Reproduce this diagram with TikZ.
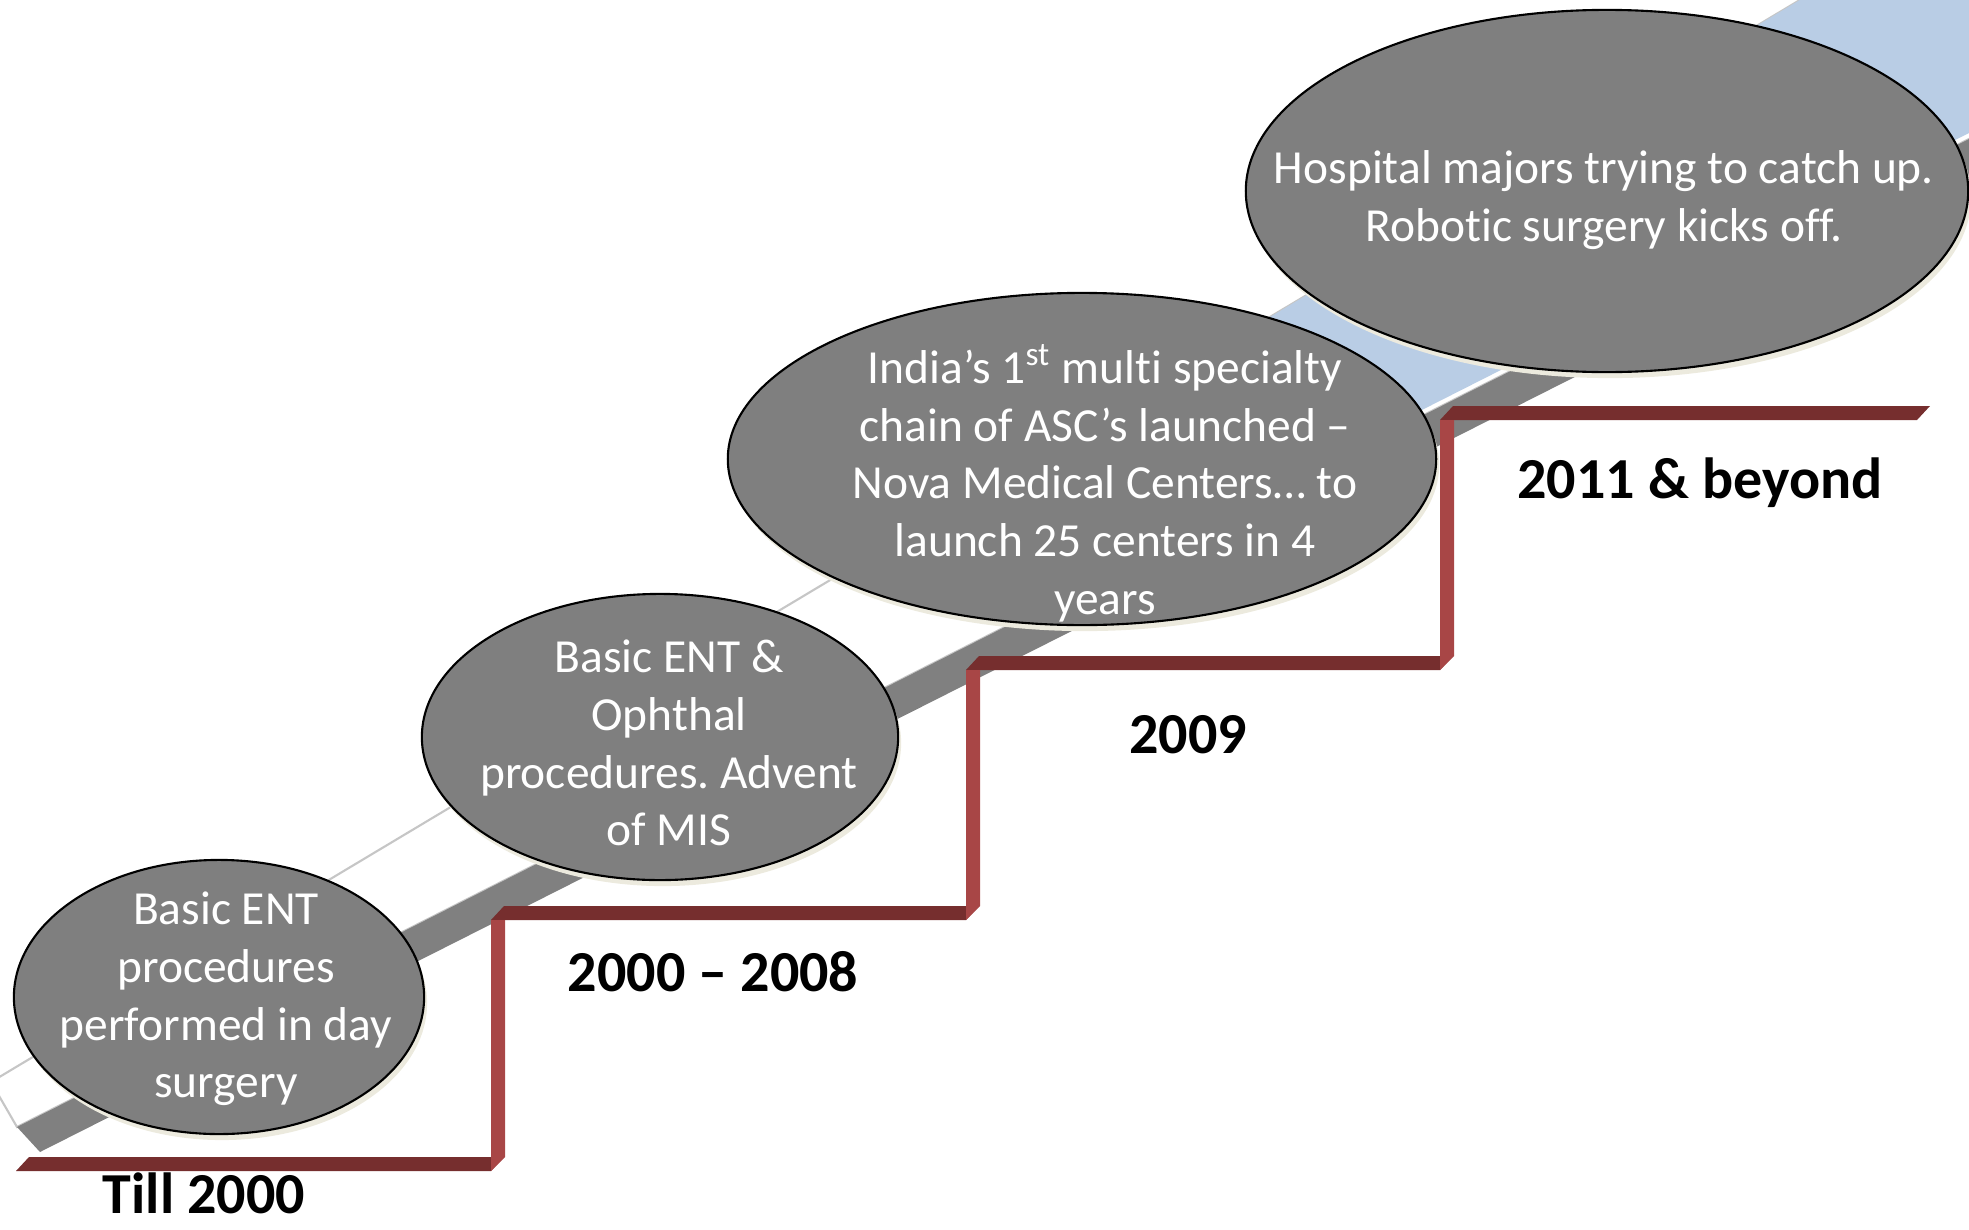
\documentclass[tikz,border=0pt]{standalone}
\usepackage{fontspec}
\setmainfont{Carlito}[Ligatures=NoCommon]
\usepackage{tikz}
\usetikzlibrary{positioning,shapes.geometric}
\usepackage{xcolor}
\frenchspacing

\definecolor{bandblue}{RGB}{185,205,229}
\definecolor{bandgray}{RGB}{128,128,128}
\definecolor{bubblegray}{RGB}{127,127,127}
\definecolor{bubblecream}{RGB}{236,234,222}
\definecolor{treadred}{RGB}{118,46,46}
\definecolor{riserred}{RGB}{168,70,70}

\begin{document}
\begin{tikzpicture}[
    x=0.01cm, y=-0.01cm,
    bubble/.style={ellipse, draw=black, line width=0.6pt, fill=bubblegray, inner sep=0pt},
    bubbleshade/.style={ellipse, fill=bubblecream, inner sep=0pt},
    bubbletext/.style={text=white, align=center, font=\fontsize{13.5}{16.4}\selectfont},
    year/.style={anchor=base, inner sep=0pt, font=\fontsize{16.5}{19}\selectfont\bfseries},
    tread/.style={fill=treadred},
    riser/.style={fill=riserred}
]
\useasboundingbox (0,0) rectangle (1969,1230);

\filldraw[fill=white, draw=gray!45, line width=0.6pt] (-9,1082) -- (17,1127) -- (2050,98) -- (2050,-30) -- (1850,-30) -- cycle;
\shade[left color=white, right color=bandblue] (1000,479) -- (1250,329) -- (1250,497) -- (1000,624) -- cycle;
\fill[bandblue] (1250,329) -- (1850,-30) -- (2050,-30) -- (2050,92) -- (1250,497) -- cycle;
\fill[bandgray] (17,1127) -- (40,1152) -- (2050,137) -- (2050,98) -- cycle;

\node[bubbleshade, minimum width=4.10cm, minimum height=2.74cm] (s1) at (222,1003) {};
\node[bubbleshade, minimum width=4.76cm, minimum height=2.86cm] (s2) at (663,743) {};
\node[bubbleshade, minimum width=7.08cm, minimum height=3.32cm] (s3) at (1085,465) {};
\node[bubbleshade, minimum width=7.22cm, minimum height=3.62cm] (s4) at (1610,197) {};

\node[bubble, minimum width=4.10cm, minimum height=2.74cm] (e1) at (219,997) {};
\node[bubble, minimum width=4.76cm, minimum height=2.86cm] (e2) at (660,737) {};
\node[bubble, minimum width=7.08cm, minimum height=3.32cm] (e3) at (1082,459) {};
\node[bubble, minimum width=7.22cm, minimum height=3.62cm] (e4) at (1607,191) {};

\node[bubbletext] (t1) at ([shift={(7,2)}]e1.center) {Basic ENT\\procedures\\performed in day\\surgery};
\node[bubbletext] (t2) at ([shift={(9,6)}]e2.center) {Basic ENT \&\\Ophthal\\procedures. Advent\\of MIS};
\node[bubbletext] (t3) at ([shift={(23,24)}]e3.center) {India’s 1\textsuperscript{st} multi specialty\\chain of ASC’s launched –\\Nova Medical Centers… to\\launch 25 centers in 4\\years};
\node[bubbletext] (t4) at ([shift={(-3,9)}]e4.center) {Hospital majors trying to catch up.\\Robotic surgery kicks off.};

\fill[tread] (16,1171) -- (29,1157) -- (504,1157) -- (491,1171) -- cycle;
\fill[tread] (491,920) -- (504,906) -- (979,906) -- (966,920) -- cycle;
\fill[tread] (966,670) -- (979,656) -- (1453,656) -- (1440,670) -- cycle;
\fill[tread] (1440,420) -- (1453,406) -- (1930,406) -- (1917,420) -- cycle;
\fill[riser] (491,920) -- (505,920) -- (505,1157) -- (491,1171) -- cycle;
\fill[riser] (966,670) -- (980,670) -- (980,906) -- (966,920) -- cycle;
\fill[riser] (1440,420) -- (1454,420) -- (1454,656) -- (1440,670) -- cycle;

\node[year] (y1) at (204,1213) {Till 2000};
\node[year] (y2) at (713,991) {2000 – 2008};
\node[year] (y3) at (1188,753) {2009};
\node[year] (y4) at (1700,498) {2011 \& beyond};
\end{tikzpicture}
\end{document}
